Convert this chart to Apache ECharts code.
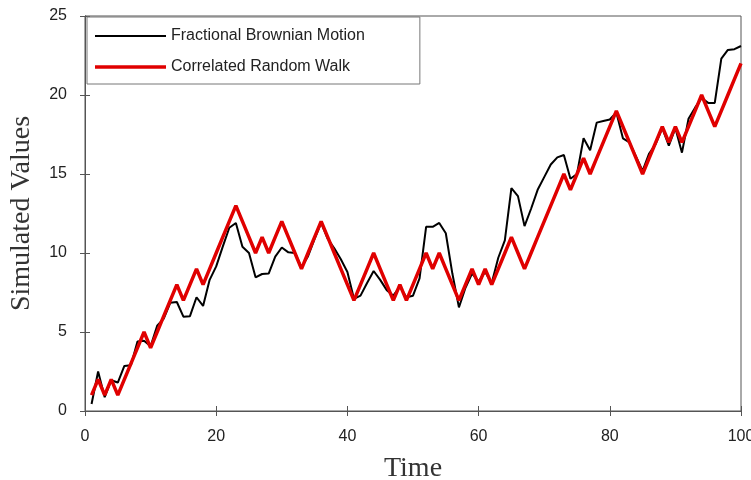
<!DOCTYPE html>
<html>
<head>
<meta charset="utf-8">
<script src="https://cdn.jsdelivr.net/npm/echarts@6/dist/echarts.min.js"></script>
<style>html,body{margin:0;padding:0;background:#fff}#c{width:751px;height:480px}</style>
</head>
<body>
<div id="c"></div>
<script>
var time = [];
for (var i = 1; i <= 100; i++) time.push(i);
var fbm = [0.44,2.5,0.87,1.95,1.8,2.85,2.9,4.4,4.45,4.1,
  5.4,5.85,6.85,6.9,5.97,6.0,7.2,6.65,8.3,9.15,
  10.4,11.6,11.9,10.4,10.0,8.46,8.67,8.7,9.77,10.35,
  10.04,10.0,9.1,9.8,10.9,11.9,10.9,10.3,9.6,8.8,
  7.1,7.3,8.1,8.86,8.3,7.65,7.3,7.87,7.2,7.3,
  8.4,11.66,11.66,11.9,11.25,8.7,6.56,7.8,8.7,8.2,
  8.8,8.1,9.7,10.8,14.1,13.6,11.7,12.8,14.0,14.8,
  15.6,16.05,16.2,14.7,15.0,17.26,16.5,18.25,18.35,18.45,
  18.9,17.26,17.0,16.1,15.2,16.3,16.9,17.9,16.8,17.9,
  16.35,18.5,19.2,19.8,19.5,19.5,22.3,22.85,22.9,23.1];
var crw = [1,2,1,2,1,2,3,4,5,4,
  5,6,7,8,7,8,9,8,9,10,
  11,12,13,12,11,10,11,10,11,12,
  11,10,9,10,11,12,11,10,9,8,
  7,8,9,10,9,8,7,8,7,8,
  9,10,9,10,9,8,7,8,9,8,
  9,8,9,10,11,10,9,10,11,12,
  13,14,15,14,15,16,15,16,17,18,
  19,18,17,16,15,16,17,18,17,18,
  17,18,19,20,19,18,19,20,21,22];
var xTicks = [0, 20, 40, 60, 80, 100];
var yTicks = [0, 5, 10, 15, 20, 25];
var seriesNames = ['Fractional Brownian Motion', 'Correlated Random Walk'];

function pairs(v) { return v.map(function (y, k) { return [time[k], y]; }); }

var chart = echarts.init(document.getElementById('c'));
var axisLine = { show: true, lineStyle: { color: '#555', width: 1 } };
var tickStyle = { show: true, inside: true, length: 5, lineStyle: { color: '#555' } };
chart.setOption({
  animation: false,
  grid: { left: 85, right: 10, top: 16, bottom: 69, outerBoundsMode: 'none', containLabel: false,
          show: true, borderColor: '#555', borderWidth: 1, backgroundColor: 'transparent' },
  legend: {
    orient: 'vertical', left: 87, top: 17,
    padding: [11, 55, 9, 8],
    itemWidth: 71, itemHeight: 16, itemGap: 15,
    borderColor: '#777', borderWidth: 1, backgroundColor: '#fff',
    textStyle: { fontFamily: 'Liberation Sans', fontSize: 16, color: '#222' },
    data: [
      { name: seriesNames[0], icon: 'path://M0,0M0,16M0,7H71V9H0Z' },
      { name: seriesNames[1], icon: 'path://M0,0M0,16M0,6.2H71V9.8H0Z' }
    ]
  },
  xAxis: [{
    type: 'value', min: xTicks[0], max: xTicks[xTicks.length - 1], interval: 20,
    name: 'Time', nameLocation: 'middle', nameGap: 44,
    nameTextStyle: { fontFamily: 'Liberation Serif', fontSize: 28, color: '#333' },
    axisLine: axisLine, axisTick: tickStyle, splitLine: { show: false },
    axisLabel: { fontFamily: 'Liberation Sans', fontSize: 16, color: '#222', margin: 18 }
  }, {
    type: 'value', position: 'top', min: 0, max: 100, interval: 20,
    axisLine: axisLine, axisTick: tickStyle, splitLine: { show: false },
    axisLabel: { show: false }
  }],
  yAxis: [{
    type: 'value', min: yTicks[0], max: yTicks[yTicks.length - 1], interval: 5,
    name: 'Simulated Values', nameLocation: 'middle', nameGap: 49,
    nameTextStyle: { fontFamily: 'Liberation Serif', fontSize: 28, color: '#333' },
    axisLine: axisLine, axisTick: tickStyle, splitLine: { show: false },
    axisLabel: { fontFamily: 'Liberation Sans', fontSize: 16, color: '#222', margin: 18 }
  }, {
    type: 'value', position: 'right', min: 0, max: 25, interval: 5,
    axisLine: axisLine, axisTick: tickStyle, splitLine: { show: false },
    axisLabel: { show: false }
  }],
  series: [{
    name: seriesNames[0], type: 'line', symbol: 'none',
    data: pairs(fbm), lineStyle: { color: '#000', width: 2 }, itemStyle: { color: '#000' }, z: 2
  }, {
    name: seriesNames[1], type: 'line', symbol: 'none',
    data: pairs(crw), lineStyle: { color: '#e00000', width: 3.5 }, itemStyle: { color: '#e00000' }, z: 3
  }]
});
</script>
</body>
</html>
